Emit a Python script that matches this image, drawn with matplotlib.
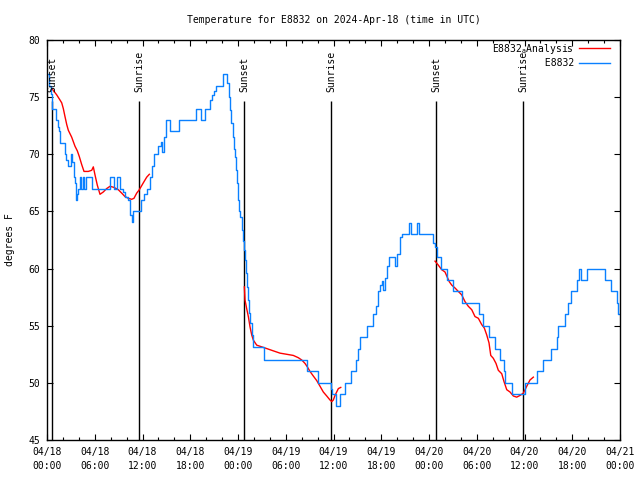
import numpy as np
import matplotlib
matplotlib.use("Agg")
import matplotlib.pyplot as plt

plt.rcParams['font.family'] = ['DejaVu Sans Mono']
plt.rcParams['font.size'] = 7

# hours since 2024-04-18 00:00 UTC
obs_hours = [0.00, 0.25, 0.50, 0.67, 1.19, 1.34, 1.51, 1.63, 2.20, 2.39, 2.58, 2.98, 3.14, 3.33, 3.46,
             3.64, 3.77, 3.93, 4.15, 4.23, 4.56, 4.69, 4.86, 5.65, 7.92, 8.42, 8.80, 9.17, 9.51, 9.80,
             10.22, 10.43, 10.64, 10.77, 11.81, 12.25, 12.53, 12.94, 13.23, 13.48, 13.99, 14.29, 14.41,
             14.70, 14.95, 15.46, 16.59, 18.72, 19.31, 19.85, 20.48, 20.70, 20.99, 21.24, 22.15, 22.66,
             22.81, 23.00, 23.12, 23.34, 23.50, 23.62, 23.72, 23.84, 24.04, 24.13, 24.25, 24.47, 24.67,
             24.79, 24.88, 24.97, 25.09, 25.22, 25.38, 25.51, 25.72, 25.92, 27.21, 32.67, 33.99, 35.69,
             35.78, 36.28, 36.76, 37.45, 38.20, 38.83, 39.12, 39.33, 40.17, 41.00, 41.34, 41.63, 41.85,
             42.06, 42.26, 42.47, 42.76, 43.01, 43.67, 43.98, 44.36, 44.55, 45.49, 45.74, 46.43, 46.75,
             48.50, 48.76, 49.05, 49.45, 50.20, 51.06, 52.15, 54.29, 54.79, 55.54, 56.30, 56.92, 57.43,
             57.55, 58.37, 60.00, 61.51, 62.37, 63.33, 64.05, 64.25, 65.09, 65.51, 65.81, 66.56, 66.89,
             67.10, 67.82, 70.12, 70.83, 71.59, 71.79, 72.00]
obs_temp = [77, 76, 75.3, 74, 73, 72.4, 72, 71, 70, 69.5, 69, 70, 69.3, 68, 67.5,
            66, 66.5, 67, 68, 67, 68, 67, 68, 67, 68, 67, 68, 67, 66.7, 66.3,
            66, 64.7, 64.1, 65, 66, 66.5, 67, 68, 69, 70, 70.7, 71.1, 70.2,
            71.5, 73, 72, 73, 74, 73, 74, 74.75, 75.2, 75.5, 76, 77, 76.2,
            75, 73.9, 72.7, 71.5, 70.5, 69.8, 68.6, 67.5, 66, 65, 64.5, 63.4, 62.4,
            61.6, 60.75, 59.6, 58.4, 57.25, 56.1, 55.2, 54.2, 53.1, 52, 51, 50, 49.5,
            49, 48, 49, 50, 51, 52, 53, 54, 55, 56, 56.7, 58, 58.6,
            58.9, 58.1, 59.2, 60.2, 61, 60.2, 61.3, 62.8, 63, 64, 63, 64, 63,
            62.2, 61.9, 61, 60, 59, 58, 57, 56, 55, 54, 53, 52, 51,
            50, 49, 50, 51, 52, 53, 54, 55, 56, 57, 58, 59, 60,
            59, 60, 59, 58, 57, 56, 56]

ana1_hours = [0.67, 1.22, 1.63, 1.85, 2.05, 2.26, 2.48, 2.68, 3.10, 3.52, 3.81, 4.06, 4.36, 4.65, 5.19,
              5.62, 5.82, 6.03, 6.32, 6.66, 7.07, 7.50, 7.92, 8.42, 8.96, 9.39, 9.80, 10.22, 10.64,
              10.93, 11.27, 11.60, 12.10, 12.53, 12.86]
ana1_temp = [75.7, 75.2, 74.75, 74.5, 74.0, 73.3, 72.6, 72.1, 71.5, 70.7, 70.3, 69.8, 69.1, 68.5, 68.5,
             68.6, 68.9, 68.2, 67.3, 66.5, 66.7, 67.0, 67.2, 67.1, 66.9, 66.6, 66.3, 66.15, 66.06,
             66.15, 66.6, 66.9, 67.5, 68.0, 68.25]
ana2_hours = [24.80, 24.88, 25.09, 25.30, 25.51, 25.72, 25.92, 26.35, 26.77, 27.61, 28.44, 29.28, 30.12,
              30.95, 31.58, 32.01, 32.42, 32.71, 33.05, 33.46, 33.89, 34.31, 34.72, 35.15, 35.56, 35.78,
              35.98, 36.19, 36.40, 36.61, 36.91]
ana2_temp = [58.4, 57.25, 56.5, 55.8, 54.9, 54.2, 53.75, 53.3, 53.2, 53.0, 52.8, 52.6, 52.5,
             52.4, 52.2, 52.0, 51.7, 51.4, 51.0, 50.6, 50.2, 49.7, 49.2, 48.85, 48.5, 48.36,
             48.5, 48.9, 49.2, 49.5, 49.6]
ana3_hours = [48.76, 49.17, 49.60, 50.01, 50.23, 50.55, 50.86, 51.27, 51.68, 52.11, 52.53, 52.94, 53.37,
              53.78, 54.20, 54.62, 54.95, 55.25, 55.54, 55.76, 56.08, 56.42, 56.71, 57.14, 57.43, 57.77,
              58.18, 58.60, 59.02, 59.44, 59.85, 60.28, 60.69, 61.11]
ana3_temp = [60.65, 60.3, 59.9, 59.7, 59.35, 58.85, 58.55, 58.3, 58.0, 57.7, 57.1, 56.7, 56.4,
             55.8, 55.65, 55.1, 54.8, 54.2, 53.5, 52.4, 52.15, 51.7, 51.1, 50.8, 50.1, 49.4,
             49.2, 48.85, 48.75, 48.9, 49.1, 49.7, 50.25, 50.5]

event_hours = [0.63, 11.62, 24.75, 35.69, 48.88, 59.81]
event_names = ["Sunset", "Sunrise", "Sunset", "Sunrise", "Sunset", "Sunrise"]

tick_hours = list(range(0, 73, 6))
tick_labels = ["04/18\n00:00", "04/18\n06:00", "04/18\n12:00", "04/18\n18:00",
               "04/19\n00:00", "04/19\n06:00", "04/19\n12:00", "04/19\n18:00",
               "04/20\n00:00", "04/20\n06:00", "04/20\n12:00", "04/20\n18:00",
               "04/21\n00:00"]
minor_hours = list(range(0, 73, 2))
y_ticks = [45, 50, 55, 60, 65, 70, 75, 80]

base = np.datetime64('2024-04-18T00:00:00')


def to_time(h):
    return base + (np.asarray(h, dtype=float) * 3600).astype('timedelta64[s]')


fig = plt.figure(figsize=(6.4, 4.8), dpi=100)
ax = fig.add_axes([47 / 640, 40 / 480, 573 / 640, 400 / 480])

for h, name in zip(event_hours, event_names):
    t = to_time([h])[0]
    ax.vlines(t, 45, 74.7, color='black', lw=1.0, zorder=1)
    ax.text(t, 75.45, name, rotation=90, ha='center', va='bottom', fontsize=7, zorder=3)

red = '#ff0000'
blue = '#0a80ff'
ax.plot(to_time(ana1_hours), ana1_temp, color=red, lw=1.0, label='E8832$_{\\mathregular{a}}$Analysis', zorder=2)
ax.plot(to_time(ana2_hours), ana2_temp, color=red, lw=1.0, zorder=2)
ax.plot(to_time(ana3_hours), ana3_temp, color=red, lw=1.0, zorder=2)
ax.plot(to_time(obs_hours), obs_temp, color=blue, lw=1.0, drawstyle='steps-post',
        label=' ' * 9 + 'E8832', zorder=2)

ax.set_xlim(to_time([0])[0], to_time([72])[0])
ax.set_ylim(45, 80)
ax.set_yticks(y_ticks)
ax.set_xticks(to_time(tick_hours))
labels = ax.set_xticklabels(tick_labels)
for lb in labels:
    lb.set_linespacing(1.45)
ax.set_xticks(to_time(minor_hours), minor=True)

ax.tick_params(axis='both', which='both', direction='in', top=True, right=True, labelsize=7)
ax.tick_params(axis='both', which='major', length=4, width=0.8, pad=5)
ax.tick_params(axis='x', which='minor', length=2.2, width=0.8)
for s in ax.spines.values():
    s.set_linewidth(1.0)

ax.set_title('Temperature for E8832 on 2024-Apr-18 (time in UTC)', fontsize=7, pad=12)
fig.text(10 / 640, 0.5, 'degrees F', rotation=90, ha='center', va='center', fontsize=7)

leg = ax.legend(loc='upper right', bbox_to_anchor=(0.991, 1.008), frameon=False, markerfirst=False,
                fontsize=7, handlelength=3.2, handletextpad=0.5, labelspacing=0.25,
                borderaxespad=0.2, borderpad=0.3)

fig.savefig('out.png', dpi=100)
